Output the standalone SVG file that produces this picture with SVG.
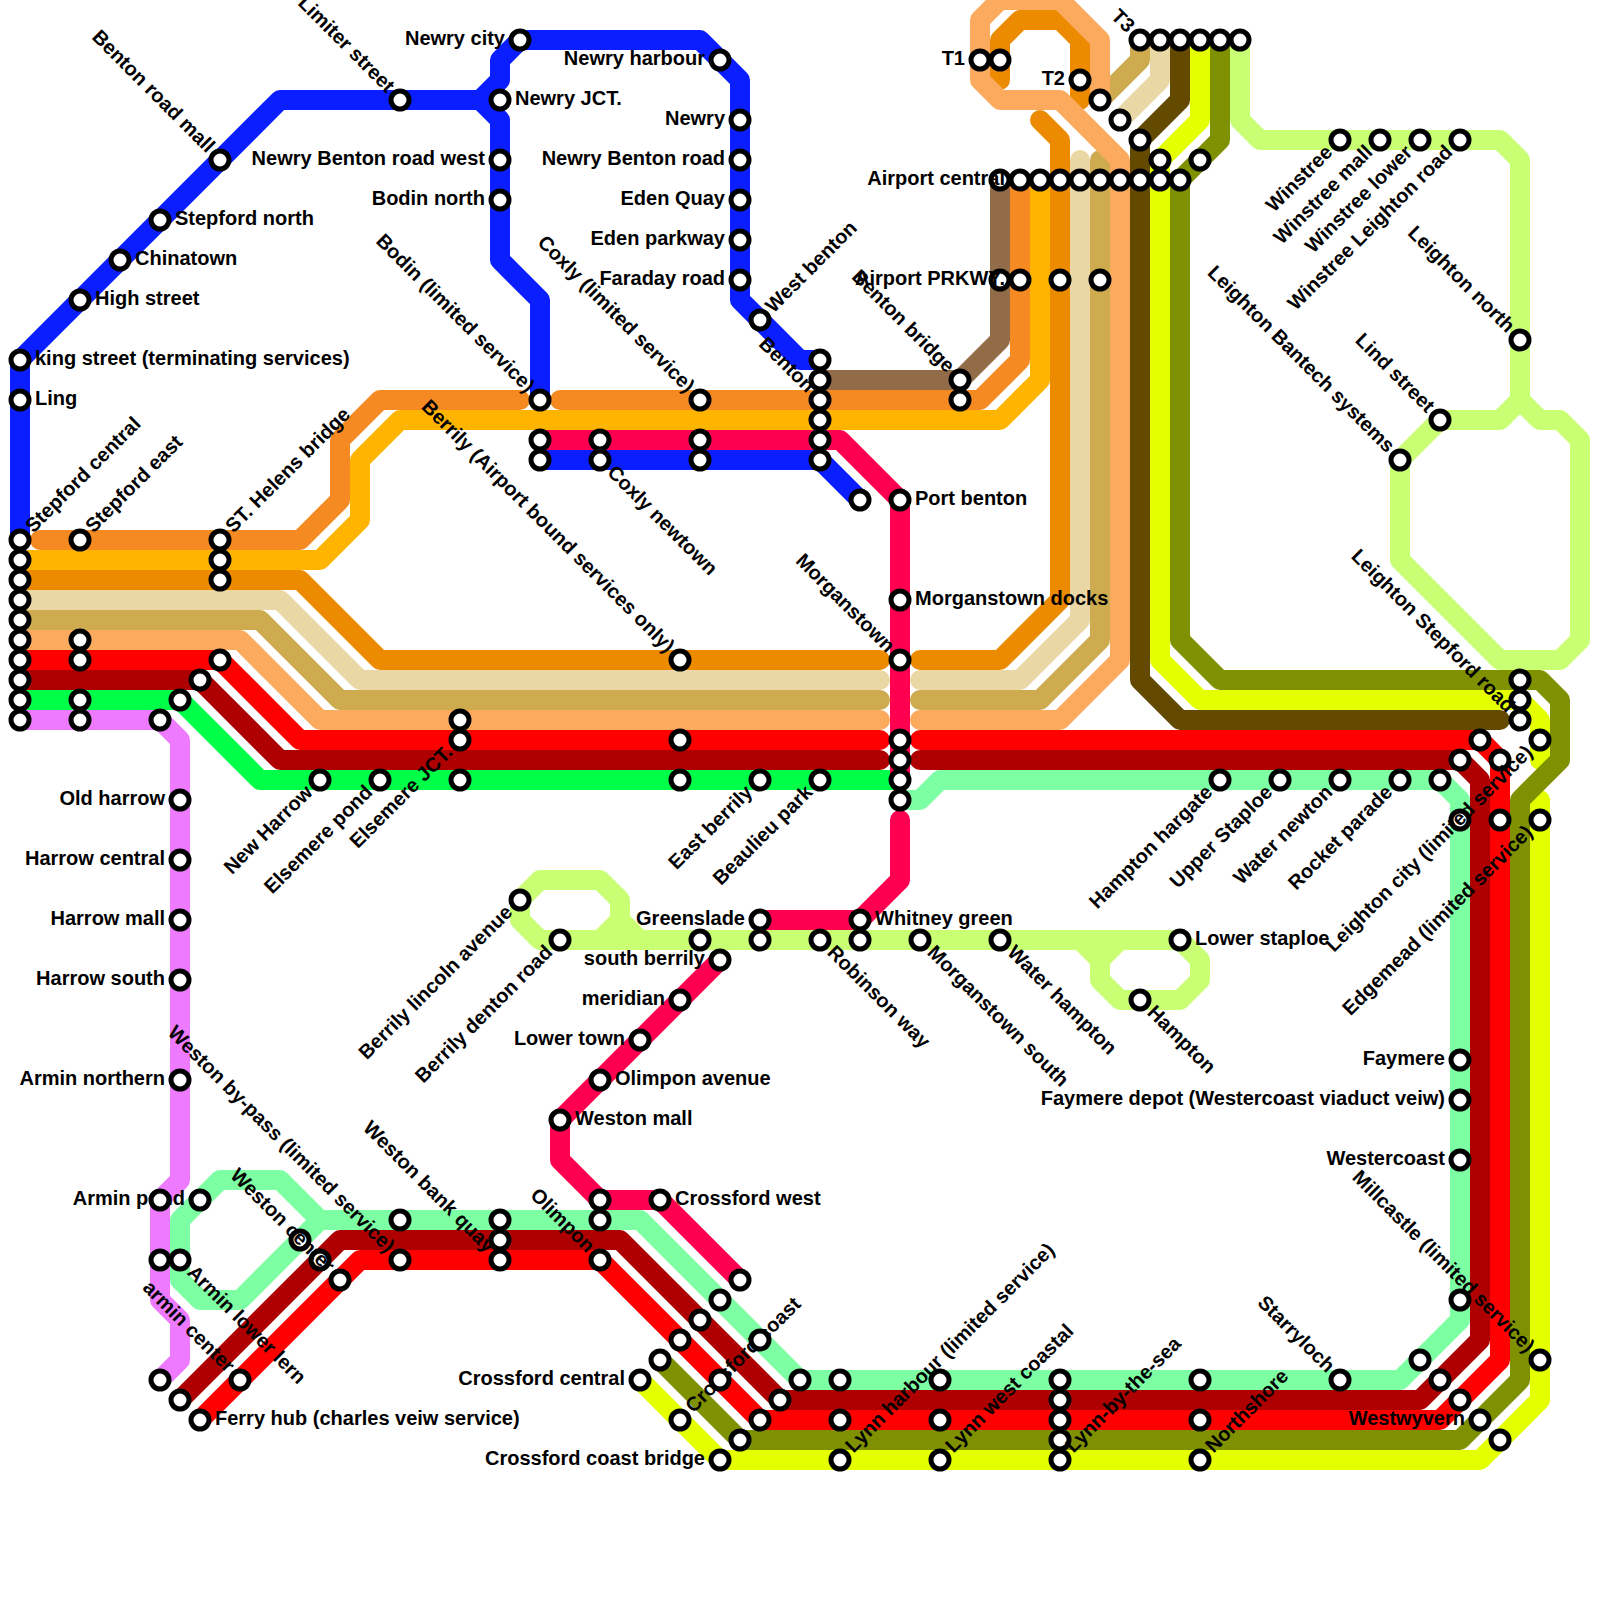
<svg xmlns="http://www.w3.org/2000/svg" width="1600" height="1600" viewBox="0 0 1600 1600">
<style>
.ln{fill:none;stroke-width:20;stroke-linecap:round;stroke-linejoin:round}
.s{fill:#fff;stroke:#000;stroke-width:5}
text{font-family:"Liberation Sans",Arial,sans-serif;font-weight:bold;font-size:20px;fill:#000}
.e{text-anchor:end}
</style>
<rect width="1600" height="1600" fill="#fff"/>
<g id="connectors">
<path class="ln" stroke="#EE7BFF" d="M20 720H160L180 740V1180L160 1200V1300L180 1320V1360L160 1380"/>
<path class="ln" stroke="#0A1EFF" d="M20 540V360L280 100H480L500 80V60L520 40H700L740 80V300L800 360H820"/>
<path class="ln" stroke="#0A1EFF" d="M480 100L500 120V260L540 300V400"/>
<path class="ln" stroke="#0A1EFF" d="M540 460H820L860 500"/>
<path class="ln" stroke="#926C48" d="M820 380H960L1000 340V180"/>
<path class="ln" stroke="#F68A22" d="M40 540H300L340 500V440L380 400H520"/>
<path class="ln" stroke="#F68A22" d="M560 400H980L1020 360V180"/>
<path class="ln" stroke="#FFB400" d="M20 560H320L360 520V460L400 420H1000L1040 380V180"/>
<path class="ln" stroke="#E9D8A6" d="M20 600H280L360 680H880"/>
<path class="ln" stroke="#E9D8A6" d="M920 680H1020L1080 620V160"/>
<path class="ln" stroke="#E9D8A6" d="M1120 120L1160 80V40"/>
<path class="ln" stroke="#CEAB4F" d="M20 620H260L340 700H880"/>
<path class="ln" stroke="#CEAB4F" d="M920 700H1040L1100 640V160"/>
<path class="ln" stroke="#CEAB4F" d="M1100 100L1140 60V40"/>
<path class="ln" stroke="#EC8A00" d="M20 580H300L380 660H880"/>
<path class="ln" stroke="#EC8A00" d="M920 660H1000L1060 600V140L1040 120"/>
<path class="ln" stroke="#EC8A00" d="M1000 80V40L1020 20H1060L1080 40V100"/>
<path class="ln" stroke="#FBAA5E" d="M20 640H240L320 720H880"/>
<path class="ln" stroke="#FBAA5E" d="M920 720H1060L1120 660V160L1060 100H1000L980 80V20L1000 0H1060L1100 40V100"/>
<path class="ln" stroke="#C8FF73" d="M1240 40V120L1260 140H1500L1520 160V400L1500 420H1440L1400 460V560L1500 660H1560L1580 640V440L1560 420H1540L1520 400"/>
<path class="ln" stroke="#C8FF73" d="M600 940L620 920V900L600 880H540L520 900V920L540 940H1180L1200 960V980L1180 1000H1120L1100 980V960L1080 940"/>
<path class="ln" stroke="#C8FF73" d="M620 920L640 940M1100 960L1120 940"/>
<path class="ln" stroke="#E3FF00" d="M1200 40V120L1160 160V660L1200 700H1520L1540 720V760"/>
<path class="ln" stroke="#E3FF00" d="M1540 800V1400L1480 1460H720L640 1380"/>
<path class="ln" stroke="#7F9000" d="M1220 40V140L1180 180V640L1220 680H1540L1560 700V760L1520 800V1380L1460 1440H740L660 1360"/>
<path class="ln" stroke="#644A00" d="M1180 40V100L1140 140V680L1180 720H1500"/>
<path class="ln" stroke="#00FF48" d="M20 700H180L260 780H900"/>
<path class="ln" stroke="#7DFFA3" d="M900 800H920L940 780H1440L1460 800V1320L1400 1380H800L640 1220H320L280 1180H220L180 1220V1280L200 1300H240L320 1220"/>
<path class="ln" stroke="#FF0000" d="M20 660H220L300 740H880"/>
<path class="ln" stroke="#FF0000" d="M920 740H1480L1500 760V1360L1440 1420H760L600 1260H360L200 1420"/>
<path class="ln" stroke="#AE0000" d="M20 680H200L280 760H880"/>
<path class="ln" stroke="#AE0000" d="M920 760H1460L1480 780V1340L1420 1400H780L620 1240H340L180 1400"/>
<path class="ln" stroke="#FF0050" d="M540 440H840L900 500V780"/>
<path class="ln" stroke="#FF0050" d="M900 820V880L860 920H760"/>
<path class="ln" stroke="#FF0050" d="M720 960L560 1120V1160L600 1200H660L740 1280"/>
</g>
<g id="n1"><circle class="s" cx="20" cy="360" r="9"/><text x="35" y="365">king street (terminating services)</text></g>
<g id="n2"><circle class="s" cx="20" cy="400" r="9"/><text x="35" y="405">Ling</text></g>
<g id="n3"><circle class="s" cx="80" cy="300" r="9"/><text x="95" y="305">High street</text></g>
<g id="n4"><circle class="s" cx="120" cy="260" r="9"/><text x="135" y="265">Chinatown</text></g>
<g id="n5"><circle class="s" cx="160" cy="220" r="9"/><text x="175" y="225">Stepford north</text></g>
<g id="n6"><circle class="s" cx="220" cy="160" r="9"/><text class="e" x="206" y="165" transform="rotate(45 220 160)">Benton road mall</text></g>
<g id="n7"><circle class="s" cx="400" cy="100" r="9"/><text class="e" x="386" y="105" transform="rotate(45 400 100)">Limiter street</text></g>
<g id="n8"><circle class="s" cx="520" cy="40" r="9"/><text class="e" x="505" y="45">Newry city</text></g>
<g id="n9"><circle class="s" cx="500" cy="100" r="9"/><text x="515" y="105">Newry JCT.</text></g>
<g id="n10"><circle class="s" cx="500" cy="160" r="9"/><text class="e" x="485" y="165">Newry Benton road west</text></g>
<g id="n11"><circle class="s" cx="500" cy="200" r="9"/><text class="e" x="485" y="205">Bodin north</text></g>
<g id="n12"><circle class="s" cx="540" cy="400" r="9"/><text class="e" x="526" y="405" transform="rotate(45 540 400)">Bodin (limited service)</text></g>
<g id="n13"><circle class="s" cx="720" cy="60" r="9"/><text class="e" x="705" y="65">Newry harbour</text></g>
<g id="n14"><circle class="s" cx="740" cy="120" r="9"/><text class="e" x="725" y="125">Newry</text></g>
<g id="n15"><circle class="s" cx="740" cy="160" r="9"/><text class="e" x="725" y="165">Newry Benton road</text></g>
<g id="n16"><circle class="s" cx="740" cy="200" r="9"/><text class="e" x="725" y="205">Eden Quay</text></g>
<g id="n17"><circle class="s" cx="740" cy="240" r="9"/><text class="e" x="725" y="245">Eden parkway</text></g>
<g id="n18"><circle class="s" cx="740" cy="280" r="9"/><text class="e" x="725" y="285">Faraday road</text></g>
<g id="n19"><circle class="s" cx="760" cy="320" r="9"/><text x="774" y="325" transform="rotate(-45 760 320)">West benton</text></g>
<g id="n20"><circle class="s" cx="20" cy="540" r="9"/><text x="34" y="545" transform="rotate(-45 20 540)">Stepford central</text></g>
<g id="n21"><circle class="s" cx="20" cy="560" r="9"/></g>
<g id="n22"><circle class="s" cx="20" cy="580" r="9"/></g>
<g id="n23"><circle class="s" cx="20" cy="600" r="9"/></g>
<g id="n24"><circle class="s" cx="20" cy="620" r="9"/></g>
<g id="n25"><circle class="s" cx="20" cy="640" r="9"/></g>
<g id="n26"><circle class="s" cx="20" cy="660" r="9"/></g>
<g id="n27"><circle class="s" cx="20" cy="680" r="9"/></g>
<g id="n28"><circle class="s" cx="20" cy="700" r="9"/></g>
<g id="n29"><circle class="s" cx="20" cy="720" r="9"/></g>
<g id="n30"><circle class="s" cx="80" cy="540" r="9"/><text x="94" y="545" transform="rotate(-45 80 540)">Stepford east</text></g>
<g id="n31"><circle class="s" cx="80" cy="640" r="9"/></g>
<g id="n32"><circle class="s" cx="80" cy="660" r="9"/></g>
<g id="n33"><circle class="s" cx="80" cy="700" r="9"/></g>
<g id="n34"><circle class="s" cx="80" cy="720" r="9"/></g>
<g id="n35"><circle class="s" cx="220" cy="540" r="9"/><text x="234" y="545" transform="rotate(-45 220 540)">ST. Helens bridge</text></g>
<g id="n36"><circle class="s" cx="220" cy="560" r="9"/></g>
<g id="n37"><circle class="s" cx="220" cy="580" r="9"/></g>
<g id="n38"><circle class="s" cx="220" cy="660" r="9"/></g>
<g id="n39"><circle class="s" cx="200" cy="680" r="9"/></g>
<g id="n40"><circle class="s" cx="180" cy="700" r="9"/></g>
<g id="n41"><circle class="s" cx="160" cy="720" r="9"/></g>
<g id="n42"><circle class="s" cx="320" cy="780" r="9"/><text class="e" x="306" y="785" transform="rotate(-45 320 780)">New Harrow</text></g>
<g id="n43"><circle class="s" cx="380" cy="780" r="9"/><text class="e" x="366" y="785" transform="rotate(-45 380 780)">Elsemere pond</text></g>
<g id="n44"><circle class="s" cx="460" cy="720" r="9"/></g>
<g id="n45"><circle class="s" cx="460" cy="740" r="9"/><text class="e" x="446" y="745" transform="rotate(-45 460 740)">Elsemere JCT.</text></g>
<g id="n46"><circle class="s" cx="460" cy="780" r="9"/></g>
<g id="n47"><circle class="s" cx="540" cy="440" r="9"/></g>
<g id="n48"><circle class="s" cx="540" cy="460" r="9"/></g>
<g id="n49"><circle class="s" cx="600" cy="440" r="9"/></g>
<g id="n50"><circle class="s" cx="600" cy="460" r="9"/><text x="614" y="465" transform="rotate(45 600 460)">Coxly newtown</text></g>
<g id="n51"><circle class="s" cx="700" cy="400" r="9"/><text class="e" x="686" y="405" transform="rotate(45 700 400)">Coxly (limited service)</text></g>
<g id="n52"><circle class="s" cx="700" cy="440" r="9"/></g>
<g id="n53"><circle class="s" cx="700" cy="460" r="9"/></g>
<g id="n54"><circle class="s" cx="680" cy="660" r="9"/><text class="e" x="666" y="665" transform="rotate(45 680 660)">Berrily (Airport bound services only)</text></g>
<g id="n55"><circle class="s" cx="680" cy="740" r="9"/></g>
<g id="n56"><circle class="s" cx="680" cy="780" r="9"/></g>
<g id="n57"><circle class="s" cx="760" cy="780" r="9"/><text class="e" x="746" y="785" transform="rotate(-45 760 780)">East berrily</text></g>
<g id="n58"><circle class="s" cx="820" cy="780" r="9"/><text class="e" x="806" y="785" transform="rotate(-45 820 780)">Beaulieu park</text></g>
<g id="n59"><circle class="s" cx="820" cy="360" r="9"/></g>
<g id="n60"><circle class="s" cx="820" cy="380" r="9"/></g>
<g id="n61"><circle class="s" cx="820" cy="400" r="9"/><text class="e" x="806" y="405" transform="rotate(45 820 400)">Benton</text></g>
<g id="n62"><circle class="s" cx="820" cy="420" r="9"/></g>
<g id="n63"><circle class="s" cx="820" cy="440" r="9"/></g>
<g id="n64"><circle class="s" cx="820" cy="460" r="9"/></g>
<g id="n65"><circle class="s" cx="860" cy="500" r="9"/></g>
<g id="n66"><circle class="s" cx="900" cy="500" r="9"/><text x="915" y="505">Port benton</text></g>
<g id="n67"><circle class="s" cx="900" cy="600" r="9"/><text x="915" y="605">Morganstown docks</text></g>
<g id="n68"><circle class="s" cx="900" cy="660" r="9"/><text class="e" x="886" y="665" transform="rotate(45 900 660)">Morganstown</text></g>
<g id="n69"><circle class="s" cx="900" cy="740" r="9"/></g>
<g id="n70"><circle class="s" cx="900" cy="760" r="9"/></g>
<g id="n71"><circle class="s" cx="900" cy="780" r="9"/></g>
<g id="n72"><circle class="s" cx="900" cy="800" r="9"/></g>
<g id="n73"><circle class="s" cx="960" cy="380" r="9"/><text class="e" x="946" y="385" transform="rotate(45 960 380)">Benton bridge</text></g>
<g id="n74"><circle class="s" cx="960" cy="400" r="9"/></g>
<g id="n75"><circle class="s" cx="980" cy="60" r="9"/><text class="e" x="965" y="65">T1</text></g>
<g id="n76"><circle class="s" cx="1000" cy="60" r="9"/></g>
<g id="n77"><circle class="s" cx="1080" cy="80" r="9"/><text class="e" x="1065" y="85">T2</text></g>
<g id="n78"><circle class="s" cx="1100" cy="100" r="9"/></g>
<g id="n79"><circle class="s" cx="1120" cy="120" r="9"/></g>
<g id="n80"><circle class="s" cx="1140" cy="140" r="9"/></g>
<g id="n81"><circle class="s" cx="1140" cy="40" r="9"/><text class="e" x="1126" y="45" transform="rotate(45 1140 40)">T3</text></g>
<g id="n82"><circle class="s" cx="1160" cy="40" r="9"/></g>
<g id="n83"><circle class="s" cx="1180" cy="40" r="9"/></g>
<g id="n84"><circle class="s" cx="1200" cy="40" r="9"/></g>
<g id="n85"><circle class="s" cx="1220" cy="40" r="9"/></g>
<g id="n86"><circle class="s" cx="1240" cy="40" r="9"/></g>
<g id="n88"><circle class="s" cx="1000" cy="180" r="9"/></g>
<g id="n87"><circle class="s" cx="1020" cy="180" r="9"/><text class="e" x="1005" y="185">Airport central</text></g>
<g id="n89"><circle class="s" cx="1040" cy="180" r="9"/></g>
<g id="n90"><circle class="s" cx="1060" cy="180" r="9"/></g>
<g id="n91"><circle class="s" cx="1080" cy="180" r="9"/></g>
<g id="n92"><circle class="s" cx="1100" cy="180" r="9"/></g>
<g id="n93"><circle class="s" cx="1120" cy="180" r="9"/></g>
<g id="n94"><circle class="s" cx="1140" cy="180" r="9"/></g>
<g id="n95"><circle class="s" cx="1160" cy="180" r="9"/></g>
<g id="n96"><circle class="s" cx="1180" cy="180" r="9"/></g>
<g id="n97"><circle class="s" cx="1160" cy="160" r="9"/></g>
<g id="n98"><circle class="s" cx="1200" cy="160" r="9"/></g>
<g id="n100"><circle class="s" cx="1000" cy="280" r="9"/></g>
<g id="n99"><circle class="s" cx="1020" cy="280" r="9"/><text class="e" x="1005" y="285">Airport PRKWY.</text></g>
<g id="n101"><circle class="s" cx="1060" cy="280" r="9"/></g>
<g id="n102"><circle class="s" cx="1100" cy="280" r="9"/></g>
<g id="n103"><circle class="s" cx="1340" cy="140" r="9"/><text class="e" x="1326" y="145" transform="rotate(-45 1340 140)">Winstree</text></g>
<g id="n104"><circle class="s" cx="1380" cy="140" r="9"/><text class="e" x="1366" y="145" transform="rotate(-45 1380 140)">Winstree mall</text></g>
<g id="n105"><circle class="s" cx="1420" cy="140" r="9"/><text class="e" x="1406" y="145" transform="rotate(-45 1420 140)">Winstree lower</text></g>
<g id="n106"><circle class="s" cx="1460" cy="140" r="9"/><text class="e" x="1446" y="145" transform="rotate(-45 1460 140)">Winstree Leighton road</text></g>
<g id="n107"><circle class="s" cx="1520" cy="340" r="9"/><text class="e" x="1506" y="345" transform="rotate(45 1520 340)">Leighton north</text></g>
<g id="n108"><circle class="s" cx="1440" cy="420" r="9"/><text class="e" x="1426" y="425" transform="rotate(45 1440 420)">Lind street</text></g>
<g id="n109"><circle class="s" cx="1400" cy="460" r="9"/><text class="e" x="1386" y="465" transform="rotate(45 1400 460)">Leighton Bantech systems</text></g>
<g id="n110"><circle class="s" cx="1520" cy="680" r="9"/></g>
<g id="n111"><circle class="s" cx="1520" cy="700" r="9"/></g>
<g id="n112"><circle class="s" cx="1520" cy="720" r="9"/><text class="e" x="1506" y="725" transform="rotate(45 1520 720)">Leighton Stepford road</text></g>
<g id="n113"><circle class="s" cx="1220" cy="780" r="9"/><text class="e" x="1206" y="785" transform="rotate(-45 1220 780)">Hampton hargate</text></g>
<g id="n114"><circle class="s" cx="1280" cy="780" r="9"/><text class="e" x="1266" y="785" transform="rotate(-45 1280 780)">Upper Staploe</text></g>
<g id="n115"><circle class="s" cx="1340" cy="780" r="9"/><text class="e" x="1326" y="785" transform="rotate(-45 1340 780)">Water newton</text></g>
<g id="n116"><circle class="s" cx="1400" cy="780" r="9"/><text class="e" x="1386" y="785" transform="rotate(-45 1400 780)">Rocket parade</text></g>
<g id="n117"><circle class="s" cx="1440" cy="780" r="9"/></g>
<g id="n118"><circle class="s" cx="1460" cy="760" r="9"/></g>
<g id="n119"><circle class="s" cx="1480" cy="740" r="9"/></g>
<g id="n120"><circle class="s" cx="1500" cy="760" r="9"/></g>
<g id="n121"><circle class="s" cx="1460" cy="820" r="9"/></g>
<g id="n122"><circle class="s" cx="1500" cy="820" r="9"/></g>
<g id="n123"><circle class="s" cx="1540" cy="740" r="9"/><text class="e" x="1526" y="745" transform="rotate(-45 1540 740)">Leighton city (limited service)</text></g>
<g id="n124"><circle class="s" cx="1540" cy="820" r="9"/><text class="e" x="1526" y="825" transform="rotate(-45 1540 820)">Edgemead (limited service)</text></g>
<g id="n125"><circle class="s" cx="520" cy="900" r="9"/><text class="e" x="506" y="905" transform="rotate(-45 520 900)">Berrily lincoln avenue</text></g>
<g id="n126"><circle class="s" cx="560" cy="940" r="9"/><text class="e" x="546" y="945" transform="rotate(-45 560 940)">Berrily denton road</text></g>
<g id="n127"><circle class="s" cx="700" cy="940" r="9"/></g>
<g id="n128"><circle class="s" cx="760" cy="920" r="9"/><text class="e" x="745" y="925">Greenslade</text></g>
<g id="n129"><circle class="s" cx="760" cy="940" r="9"/></g>
<g id="n130"><circle class="s" cx="820" cy="940" r="9"/><text x="834" y="945" transform="rotate(45 820 940)">Robinson way</text></g>
<g id="n131"><circle class="s" cx="860" cy="920" r="9"/><text x="875" y="925">Whitney green</text></g>
<g id="n132"><circle class="s" cx="860" cy="940" r="9"/></g>
<g id="n133"><circle class="s" cx="920" cy="940" r="9"/><text x="934" y="945" transform="rotate(45 920 940)">Morganstown south</text></g>
<g id="n134"><circle class="s" cx="1000" cy="940" r="9"/><text x="1014" y="945" transform="rotate(45 1000 940)">Water hampton</text></g>
<g id="n135"><circle class="s" cx="1180" cy="940" r="9"/><text x="1195" y="945">Lower staploe</text></g>
<g id="n136"><circle class="s" cx="1140" cy="1000" r="9"/><text x="1154" y="1005" transform="rotate(45 1140 1000)">Hampton</text></g>
<g id="n137"><circle class="s" cx="720" cy="960" r="9"/><text class="e" x="705" y="965">south berrily</text></g>
<g id="n138"><circle class="s" cx="680" cy="1000" r="9"/><text class="e" x="665" y="1005">meridian</text></g>
<g id="n139"><circle class="s" cx="640" cy="1040" r="9"/><text class="e" x="625" y="1045">Lower town</text></g>
<g id="n140"><circle class="s" cx="600" cy="1080" r="9"/><text x="615" y="1085">Olimpon avenue</text></g>
<g id="n141"><circle class="s" cx="560" cy="1120" r="9"/><text x="575" y="1125">Weston mall</text></g>
<g id="n142"><circle class="s" cx="600" cy="1200" r="9"/></g>
<g id="n143"><circle class="s" cx="660" cy="1200" r="9"/><text x="675" y="1205">Crossford west</text></g>
<g id="n144"><circle class="s" cx="180" cy="800" r="9"/><text class="e" x="165" y="805">Old harrow</text></g>
<g id="n145"><circle class="s" cx="180" cy="860" r="9"/><text class="e" x="165" y="865">Harrow central</text></g>
<g id="n146"><circle class="s" cx="180" cy="920" r="9"/><text class="e" x="165" y="925">Harrow mall</text></g>
<g id="n147"><circle class="s" cx="180" cy="980" r="9"/><text class="e" x="165" y="985">Harrow south</text></g>
<g id="n148"><circle class="s" cx="180" cy="1080" r="9"/><text class="e" x="165" y="1085">Armin northern</text></g>
<g id="n149"><circle class="s" cx="200" cy="1200" r="9"/><text class="e" x="185" y="1205">Armin pond</text></g>
<g id="n150"><circle class="s" cx="160" cy="1200" r="9"/></g>
<g id="n151"><circle class="s" cx="160" cy="1260" r="9"/></g>
<g id="n152"><circle class="s" cx="180" cy="1260" r="9"/><text x="194" y="1265" transform="rotate(45 180 1260)">Armin lower lern</text></g>
<g id="n153"><circle class="s" cx="160" cy="1380" r="9"/></g>
<g id="n154"><circle class="s" cx="180" cy="1400" r="9"/></g>
<g id="n155"><circle class="s" cx="200" cy="1420" r="9"/><text x="215" y="1425">Ferry hub (charles veiw service)</text></g>
<g id="n156"><circle class="s" cx="240" cy="1380" r="9"/><text class="e" x="226" y="1385" transform="rotate(45 240 1380)">armin center</text></g>
<g id="n157"><circle class="s" cx="300" cy="1240" r="9"/></g>
<g id="n158"><circle class="s" cx="320" cy="1260" r="9"/></g>
<g id="n159"><circle class="s" cx="340" cy="1280" r="9"/><text class="e" x="326" y="1285" transform="rotate(45 340 1280)">Weston center</text></g>
<g id="n160"><circle class="s" cx="400" cy="1220" r="9"/></g>
<g id="n161"><circle class="s" cx="400" cy="1260" r="9"/><text class="e" x="386" y="1265" transform="rotate(45 400 1260)">Weston by-pass (limited service)</text></g>
<g id="n162"><circle class="s" cx="500" cy="1220" r="9"/></g>
<g id="n163"><circle class="s" cx="500" cy="1240" r="9"/></g>
<g id="n164"><circle class="s" cx="500" cy="1260" r="9"/><text class="e" x="486" y="1265" transform="rotate(45 500 1260)">Weston bank quay</text></g>
<g id="n165"><circle class="s" cx="600" cy="1220" r="9"/></g>
<g id="n166"><circle class="s" cx="600" cy="1260" r="9"/><text class="e" x="586" y="1265" transform="rotate(45 600 1260)">Olimpon</text></g>
<g id="n167"><circle class="s" cx="680" cy="1420" r="9"/><text x="694" y="1425" transform="rotate(-45 680 1420)">Crossford coast</text></g>
<g id="n168"><circle class="s" cx="740" cy="1280" r="9"/></g>
<g id="n169"><circle class="s" cx="720" cy="1300" r="9"/></g>
<g id="n170"><circle class="s" cx="700" cy="1320" r="9"/></g>
<g id="n171"><circle class="s" cx="680" cy="1340" r="9"/></g>
<g id="n172"><circle class="s" cx="660" cy="1360" r="9"/></g>
<g id="n173"><circle class="s" cx="640" cy="1380" r="9"/><text class="e" x="625" y="1385">Crossford central</text></g>
<g id="n174"><circle class="s" cx="760" cy="1340" r="9"/></g>
<g id="n175"><circle class="s" cx="720" cy="1380" r="9"/></g>
<g id="n176"><circle class="s" cx="800" cy="1380" r="9"/></g>
<g id="n177"><circle class="s" cx="780" cy="1400" r="9"/></g>
<g id="n178"><circle class="s" cx="760" cy="1420" r="9"/></g>
<g id="n179"><circle class="s" cx="740" cy="1440" r="9"/></g>
<g id="n180"><circle class="s" cx="720" cy="1460" r="9"/><text class="e" x="705" y="1465">Crossford coast bridge</text></g>
<g id="n181"><circle class="s" cx="840" cy="1380" r="9"/></g>
<g id="n182"><circle class="s" cx="840" cy="1420" r="9"/></g>
<g id="n183"><circle class="s" cx="840" cy="1460" r="9"/><text x="854" y="1465" transform="rotate(-45 840 1460)">Lynn harbour (limited service)</text></g>
<g id="n184"><circle class="s" cx="940" cy="1380" r="9"/></g>
<g id="n185"><circle class="s" cx="940" cy="1420" r="9"/></g>
<g id="n186"><circle class="s" cx="940" cy="1460" r="9"/><text x="954" y="1465" transform="rotate(-45 940 1460)">Lynn west coastal</text></g>
<g id="n187"><circle class="s" cx="1060" cy="1380" r="9"/></g>
<g id="n188"><circle class="s" cx="1060" cy="1400" r="9"/></g>
<g id="n189"><circle class="s" cx="1060" cy="1420" r="9"/></g>
<g id="n190"><circle class="s" cx="1060" cy="1440" r="9"/></g>
<g id="n191"><circle class="s" cx="1060" cy="1460" r="9"/><text x="1074" y="1465" transform="rotate(-45 1060 1460)">Lynn-by-the-sea</text></g>
<g id="n192"><circle class="s" cx="1200" cy="1380" r="9"/></g>
<g id="n193"><circle class="s" cx="1200" cy="1420" r="9"/></g>
<g id="n194"><circle class="s" cx="1200" cy="1460" r="9"/><text x="1214" y="1465" transform="rotate(-45 1200 1460)">Northshore</text></g>
<g id="n195"><circle class="s" cx="1340" cy="1380" r="9"/><text class="e" x="1326" y="1385" transform="rotate(45 1340 1380)">Starryloch</text></g>
<g id="n196"><circle class="s" cx="1420" cy="1360" r="9"/></g>
<g id="n197"><circle class="s" cx="1440" cy="1380" r="9"/></g>
<g id="n198"><circle class="s" cx="1460" cy="1400" r="9"/></g>
<g id="n199"><circle class="s" cx="1480" cy="1420" r="9"/><text class="e" x="1465" y="1425">Westwyvern</text></g>
<g id="n200"><circle class="s" cx="1500" cy="1440" r="9"/></g>
<g id="n201"><circle class="s" cx="1460" cy="1060" r="9"/><text class="e" x="1445" y="1065">Faymere</text></g>
<g id="n202"><circle class="s" cx="1460" cy="1100" r="9"/><text class="e" x="1445" y="1105">Faymere depot (Westercoast viaduct veiw)</text></g>
<g id="n203"><circle class="s" cx="1460" cy="1160" r="9"/><text class="e" x="1445" y="1165">Westercoast</text></g>
<g id="n204"><circle class="s" cx="1460" cy="1300" r="9"/></g>
<g id="n205"><circle class="s" cx="1540" cy="1360" r="9"/><text class="e" x="1526" y="1365" transform="rotate(45 1540 1360)">Millcastle (limited service)</text></g>
</svg>
